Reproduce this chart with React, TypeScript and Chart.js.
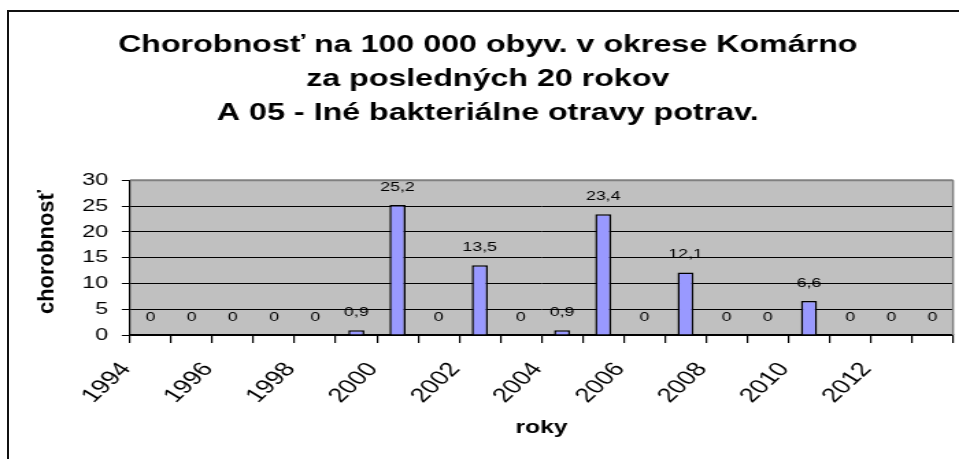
import React, { useEffect, useRef } from 'react';
import { Chart, registerables } from 'chart.js';

Chart.register(...registerables);

// ---- data ----
const years = ['1994', '1995', '1996', '1997', '1998', '1999', '2000', '2001', '2002', '2003', '2004', '2005', '2006', '2007', '2008', '2009', '2010', '2011', '2012', '2013'];
const values = [0, 0, 0, 0, 0, 0.9, 25.2, 0, 13.5, 0, 0.9, 23.4, 0, 12.1, 0, 0, 6.6, 0, 0, 0];
const yTicks = [0, 5, 10, 15, 20, 25, 30];
const titleLines = [
  'Chorobnosť na 100 000 obyv. v okrese Komárno',
  'za posledných 20 rokov',
  'A 05 - Iné bakteriálne otravy potrav.',
];
const xTitle = 'roky';
const yTitle = 'chorobnosť';

// ---- layout (the chart is drawn narrower and stretched horizontally, like the reference) ----
const W = 959;
const H = 459;
const S = 1.37;
const IW = Math.round(W / S);
const FONT = '"Liberation Sans", Arial, sans-serif';

const plotLeft = 130 / S;
const plotRight = 953 / S;
const padLeft = 16.4;
const plotBottom = 335;

export default function App() {
  const ref = useRef<HTMLCanvasElement | null>(null);

  useEffect(() => {
    if (!ref.current) return;
    Chart.defaults.font.family = FONT;

    const bgPlugin = {
      id: 'plotBg',
      beforeDraw(chart: any) {
        const { ctx, chartArea: a } = chart;
        ctx.save();
        ctx.fillStyle = '#C0C0C0';
        ctx.fillRect(a.left, a.top, a.right - a.left, a.bottom - a.top);
        ctx.restore();
      },
      afterDraw(chart: any) {
        const { ctx, chartArea: a } = chart;
        ctx.save();
        ctx.strokeStyle = '#808080';
        ctx.lineWidth = 2;
        ctx.beginPath();
        ctx.moveTo(a.left, a.top);
        ctx.lineTo(a.right, a.top);
        ctx.stroke();
        ctx.lineWidth = 1.5;
        ctx.beginPath();
        ctx.moveTo(a.right, a.top);
        ctx.lineTo(a.right, a.bottom);
        ctx.stroke();
        // y axis title, drawn without the horizontal stretch
        ctx.translate(48 / S, 252);
        ctx.scale(1 / S, 1);
        ctx.rotate(-Math.PI / 2);
        ctx.font = `bold 22px ${FONT}`;
        ctx.fillStyle = '#000';
        ctx.textAlign = 'center';
        ctx.textBaseline = 'middle';
        ctx.fillText(yTitle, 0, 0);
        ctx.restore();
      },
    };

    const labelPlugin = {
      id: 'valueLabels',
      afterDatasetsDraw(chart: any) {
        const { ctx } = chart;
        const meta = chart.getDatasetMeta(0);
        ctx.save();
        ctx.font = `13px ${FONT}`;
        ctx.fillStyle = '#000';
        ctx.textAlign = 'center';
        ctx.textBaseline = 'middle';
        meta.data.forEach((bar: any, i: number) => {
          ctx.fillText(String(values[i]).replace('.', ','), bar.x, bar.y - 18);
        });
        ctx.restore();
      },
    };

    const chart = new Chart(ref.current, {
      type: 'bar',
      data: {
        labels: years,
        datasets: [
          {
            data: values,
            backgroundColor: '#9999FF',
            borderColor: '#000000',
            borderWidth: 1.5,
            barPercentage: 0.39,
            categoryPercentage: 1,
          },
        ],
      },
      options: {
        responsive: false,
        animation: false,
        devicePixelRatio: 1,
        layout: { padding: { left: padLeft, right: IW - plotRight, top: 0, bottom: 0 } },
        plugins: {
          legend: { display: false },
          tooltip: { enabled: false },
          title: {
            display: true,
            text: titleLines,
            color: '#000',
            font: { family: FONT, size: 23.5, weight: 'bold', lineHeight: 1.45 },
            padding: { top: 28, bottom: 50 },
          },
        },
        scales: {
          x: {
            grid: { offset: true, drawOnChartArea: false, color: '#000', tickLength: 8, lineWidth: 1.2 },
            border: { color: '#000', width: 1.5 },
            ticks: {
              autoSkip: false,
              maxRotation: 51,
              minRotation: 51,
              color: '#000',
              padding: 15,
              labelOffset: -18,
              font: { family: FONT, size: 20 },
              callback: (_v: any, i: number) => (i % 2 === 0 ? years[i] : ''),
            },
            title: {
              display: true,
              text: xTitle,
              color: '#000',
              font: { family: FONT, size: 18, weight: 'bold', lineHeight: 1.2 },
              padding: { top: 0, bottom: 20 },
            },
            afterFit: (s: any) => {
              s.height = H - plotBottom;
              s.paddingLeft = 0;
              s.paddingRight = 0;
            },
          },
          y: {
            min: 0,
            max: 30,
            grid: { color: '#000', lineWidth: 1, tickLength: 6 },
            border: { color: '#000', width: 1.2 },
            ticks: {
              color: '#000',
              padding: 10,
              font: { family: FONT, size: 17 },
            },
            afterBuildTicks: (s: any) => {
              s.ticks = yTicks.map((v) => ({ value: v }));
            },
            afterFit: (s: any) => {
              s.width = plotLeft - padLeft;
              s.paddingTop = 0;
              s.paddingBottom = 0;
            },
          },
        },
      },
      plugins: [bgPlugin, labelPlugin],
    });

    return () => chart.destroy();
  }, []);

  return (
    <div style={{ position: 'fixed', left: 0, top: 0, width: W, height: H, background: '#fff', overflow: 'hidden' }}>
      <div
        style={{
          position: 'absolute',
          left: 7,
          top: 10,
          width: 1200,
          height: 1200,
          borderLeft: '2px solid #111',
          borderTop: '2px solid #111',
        }}
      />
      <canvas
        ref={ref}
        width={IW}
        height={H}
        style={{ position: 'absolute', left: 0, top: 0, width: W + 'px', height: H + 'px', display: 'block' }}
      />
    </div>
  );
}
